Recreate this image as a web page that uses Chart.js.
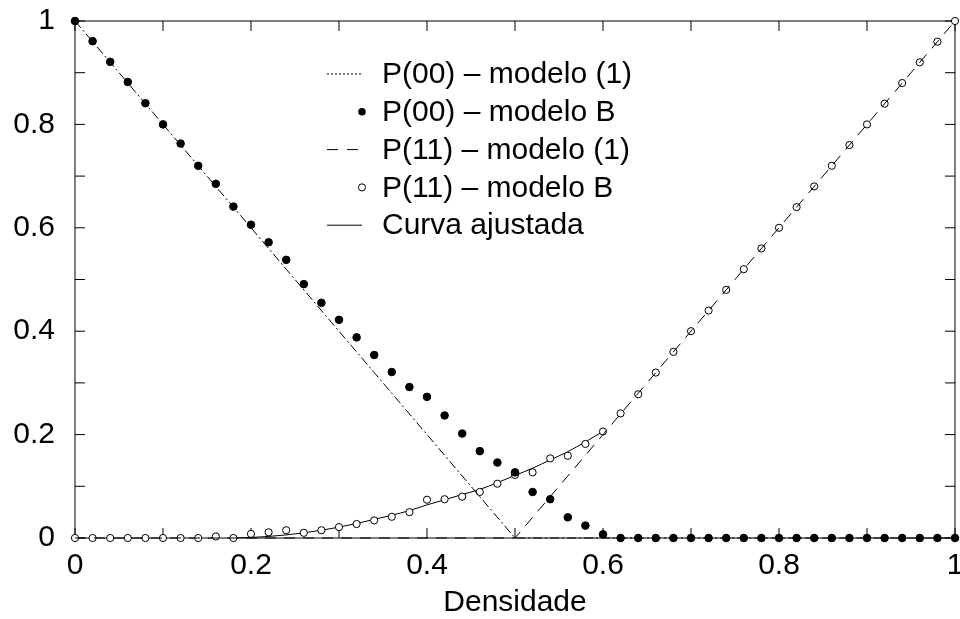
<!DOCTYPE html>
<html lang="pt">
<head>
    <meta charset="UTF-8">
    <title>P(00) e P(11) vs Densidade</title>
    <script src="https://cdn.jsdelivr.net/npm/chart.js"></script>
    <style>
        body { margin: 0; background: #fff; }
        #wrap { width: 960px; height: 619px; }
    </style>
</head>
<body>
    <div id="wrap"><canvas id="grafico" width="960" height="619"></canvas></div>

    <script>
        // Data
        var densidade = [0, 0.02, 0.04, 0.06, 0.08, 0.10, 0.12, 0.14, 0.16, 0.18, 0.20,
            0.22, 0.24, 0.26, 0.28, 0.30, 0.32, 0.34, 0.36, 0.38, 0.40,
            0.42, 0.44, 0.46, 0.48, 0.50, 0.52, 0.54, 0.56, 0.58, 0.60,
            0.62, 0.64, 0.66, 0.68, 0.70, 0.72, 0.74, 0.76, 0.78, 0.80,
            0.82, 0.84, 0.86, 0.88, 0.90, 0.92, 0.94, 0.96, 0.98, 1.00];

        var p00B = [1, 0.961, 0.921, 0.882, 0.841, 0.800, 0.763, 0.720, 0.685, 0.641, 0.606,
            0.572, 0.538, 0.491, 0.455, 0.422, 0.388, 0.354, 0.321, 0.292, 0.273,
            0.237, 0.202, 0.168, 0.146, 0.127, 0.089, 0.075, 0.040, 0.024, 0.007,
            0, 0, 0, 0, 0, 0, 0, 0, 0, 0,
            0, 0, 0, 0, 0, 0, 0, 0, 0, 0];

        var p11B = [0, 0, 0, 0, 0, 0, 0, 0, 0.003, 0, 0.008,
            0.011, 0.015, 0.010, 0.015, 0.021, 0.027, 0.034, 0.041, 0.050, 0.074,
            0.075, 0.080, 0.089, 0.105, 0.122, 0.127, 0.154, 0.159, 0.182, 0.206,
            0.241, 0.278, 0.320, 0.360, 0.400, 0.440, 0.480, 0.520, 0.560, 0.600,
            0.640, 0.680, 0.720, 0.760, 0.800, 0.840, 0.880, 0.920, 0.960, 1.000];

        // modelo (1): straight lines
        var modelo1X = [0, 0.5, 1];
        var p00Modelo1 = [1, 0, 0];
        var p11Modelo1 = [0, 0, 1];

        // curva ajustada
        var curvaX = [0.18, 0.20, 0.22, 0.24, 0.26, 0.28, 0.30, 0.32, 0.34, 0.36, 0.38,
            0.40, 0.42, 0.44, 0.46, 0.48, 0.50, 0.52, 0.54, 0.56, 0.58, 0.60];
        var curvaY = [0, 0.001, 0.003, 0.006, 0.010, 0.015, 0.021, 0.028, 0.036, 0.044, 0.053,
            0.064, 0.074, 0.084, 0.094, 0.107, 0.121, 0.135, 0.151, 0.167, 0.186, 0.206];

        var labelTicks = [0, 0.2, 0.4, 0.6, 0.8, 1];
        var markTicks = [0, 0.1, 0.2, 0.3, 0.4, 0.5, 0.6, 0.7, 0.8, 0.9, 1];

        var legendas = ['P(00) \u2013 modelo (1)', 'P(00) \u2013 modelo B', 'P(11) \u2013 modelo (1)',
            'P(11) \u2013 modelo B', 'Curva ajustada'];

        function pares(xs, ys) {
            return xs.map(function (x, i) { return { x: x, y: ys[i] }; });
        }

        var FONTE = "'Liberation Sans', Arial, sans-serif";

        // frame + inward ticks on all four sides
        var moldura = {
            id: 'moldura',
            beforeDatasetsDraw: function (chart) {
                var ctx = chart.ctx, a = chart.chartArea;
                var sx = chart.scales.x, sy = chart.scales.y;
                ctx.save();
                ctx.strokeStyle = '#000';
                ctx.lineWidth = 1;
                ctx.strokeRect(a.left, a.top, a.right - a.left, a.bottom - a.top);
                ctx.beginPath();
                markTicks.forEach(function (v) {
                    var px = sx.getPixelForValue(v);
                    ctx.moveTo(px, a.bottom); ctx.lineTo(px, a.bottom - 10);
                    ctx.moveTo(px, a.top); ctx.lineTo(px, a.top + 10);
                    var py = sy.getPixelForValue(v);
                    ctx.moveTo(a.left, py); ctx.lineTo(a.left + 10, py);
                    ctx.moveTo(a.right, py); ctx.lineTo(a.right - 10, py);
                });
                ctx.stroke();
                ctx.restore();
            }
        };

        // gnuplot style key inside the plot
        var chave = {
            id: 'chave',
            afterDatasetsDraw: function (chart) {
                var ctx = chart.ctx;
                var x0 = 327, x1 = 362, xt = 382, y0 = 74, passo = 37.8;
                ctx.save();
                chart.data.datasets.forEach(function (ds, i) {
                    var y = y0 + i * passo;
                    ctx.strokeStyle = '#000';
                    ctx.fillStyle = '#000';
                    ctx.lineWidth = 1;
                    if (ds.showLine) {
                        ctx.setLineDash(ds.chaveDash || []);
                        ctx.beginPath();
                        ctx.moveTo(x0, y); ctx.lineTo(x1, y);
                        ctx.stroke();
                        ctx.setLineDash([]);
                    } else {
                        ctx.beginPath();
                        ctx.arc(x1, y, ds.pointRadius, 0, Math.PI * 2);
                        if (ds.pointBackgroundColor === '#000') ctx.fill();
                        else { ctx.fillStyle = '#fff'; ctx.fill(); ctx.stroke(); }
                    }
                    ctx.fillStyle = '#000';
                    ctx.font = '30px ' + FONTE;
                    ctx.textBaseline = 'middle';
                    ctx.textAlign = 'left';
                    ctx.fillText(ds.label, xt, y + 1);
                });
                ctx.restore();
            }
        };

        var ctx = document.getElementById('grafico').getContext('2d');
        var grafico = new Chart(ctx, {
            type: 'scatter',
            data: {
                datasets: [{
                    label: legendas[0],
                    data: pares(modelo1X, p00Modelo1),
                    showLine: true,
                    borderColor: '#000',
                    borderWidth: 1,
                    borderDash: [9, 3, 2, 3],
                    chaveDash: [2, 2],
                    pointRadius: 0
                }, {
                    label: legendas[1],
                    data: pares(densidade, p00B),
                    showLine: false,
                    pointRadius: 3.8,
                    pointBackgroundColor: '#000',
                    pointBorderColor: '#000',
                    pointBorderWidth: 1
                }, {
                    label: legendas[2],
                    data: pares(modelo1X, p11Modelo1),
                    showLine: true,
                    borderColor: '#000',
                    borderWidth: 1,
                    borderDash: [11, 8],
                    chaveDash: [11, 9],
                    pointRadius: 0
                }, {
                    label: legendas[3],
                    data: pares(densidade, p11B),
                    showLine: false,
                    pointRadius: 3.6,
                    pointBackgroundColor: '#fff',
                    pointBorderColor: '#000',
                    pointBorderWidth: 1
                }, {
                    label: legendas[4],
                    data: pares(curvaX, curvaY),
                    showLine: true,
                    borderColor: '#000',
                    borderWidth: 1,
                    cubicInterpolationMode: 'monotone',
                    pointRadius: 0
                }]
            },
            options: {
                responsive: false,
                animation: false,
                devicePixelRatio: 1,
                clip: false,
                layout: { padding: { top: 21, right: 2, left: 0, bottom: 0 } },
                plugins: {
                    legend: { display: false },
                    tooltip: { enabled: false }
                },
                scales: {
                    x: {
                        type: 'linear',
                        min: 0, max: 1,
                        afterBuildTicks: function (s) { s.ticks = labelTicks.map(function (v) { return { value: v }; }); },
                        afterFit: function (s) {
                            s.height = 81;
                            s.paddingLeft = 0; s.paddingRight = 0;
                        },
                        grid: { display: false, drawTicks: false },
                        border: { display: false },
                        ticks: {
                            color: '#000',
                            padding: 10,
                            maxRotation: 0,
                            font: { family: FONTE, size: 30 },
                            callback: function (v) { return String(v); }
                        },
                        title: {
                            display: true,
                            text: 'Densidade',
                            color: '#000',
                            padding: { top: 0, bottom: 0 },
                            font: { family: FONTE, size: 30, lineHeight: 1.1 }
                        }
                    },
                    y: {
                        type: 'linear',
                        min: 0, max: 1,
                        afterBuildTicks: function (s) { s.ticks = labelTicks.map(function (v) { return { value: v }; }); },
                        afterFit: function (s) {
                            s.width = 75;
                            s.paddingTop = 0; s.paddingBottom = 0;
                        },
                        grid: { display: false, drawTicks: false },
                        border: { display: false },
                        ticks: {
                            color: '#000',
                            padding: 20,
                            font: { family: FONTE, size: 30 },
                            callback: function (v) { return String(v); }
                        }
                    }
                }
            },
            plugins: [moldura, chave]
        });
    </script>
</body>
</html>
